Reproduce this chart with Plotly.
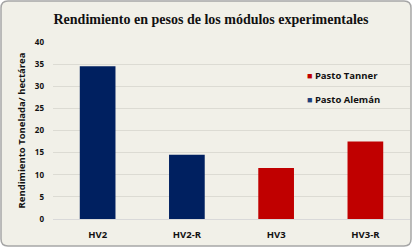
import plotly.graph_objects as go

categories = ["HV2", "HV2-R", "HV3", "HV3-R"]
aleman_x = ["HV2", "HV2-R"]
aleman_y = [34.5, 14.5]
tanner_x = ["HV3", "HV3-R"]
tanner_y = [11.5, 17.5]
y_ticks = [0, 5, 10, 15, 20, 25, 30, 35, 40]
series = [("Pasto Tanner", "#c00000"), ("Pasto Alemán", "#1f3f7a")]
bar_colors = ["#c00000", "#002060"]

W, H = 413, 248
ML, MR, MT, MB = 53, 3, 42, 29
PW, PH = W - ML - MR, H - MT - MB

def px(x):
    return (x - ML) / PW

def py(y):
    return (H - MB - y) / PH

fig = go.Figure()
fig.add_trace(go.Bar(x=tanner_x, y=tanner_y, name=series[0][0],
                     marker=dict(color=bar_colors[0], line=dict(width=0)),
                     width=0.4, showlegend=False))
fig.add_trace(go.Bar(x=aleman_x, y=aleman_y, name=series[1][0],
                     marker=dict(color=bar_colors[1], line=dict(width=0)),
                     width=0.4, showlegend=False))

# rounded border
x0, x1, y0, y1, r = 1, W - 2, 1, H - 2, 7
path = (f"M{px(x0+r)},{py(y0)} L{px(x1-r)},{py(y0)} Q{px(x1)},{py(y0)} {px(x1)},{py(y0+r)} "
        f"L{px(x1)},{py(y1-r)} Q{px(x1)},{py(y1)} {px(x1-r)},{py(y1)} "
        f"L{px(x0+r)},{py(y1)} Q{px(x0)},{py(y1)} {px(x0)},{py(y1-r)} "
        f"L{px(x0)},{py(y0+r)} Q{px(x0)},{py(y0)} {px(x0+r)},{py(y0)} Z")
fig.add_shape(type="path", path=path, xref="paper", yref="paper",
              fillcolor="#f1f0e8", line=dict(color="#a6a6a6", width=1.5), layer="below")

# legend (custom, small squares)
for i, (name, color) in enumerate(series):
    yy = 75.5 + i * 23.5
    fig.add_annotation(x=px(305), y=py(yy), xref="paper", yref="paper",
                       xanchor="left", yanchor="middle", showarrow=False,
                       text=f"<span style='color:{color};font-size:9px'>■</span> {name}",
                       font=dict(size=9.5, family="Open Sans", color="#111111", weight="bold"))

fig.update_layout(
    width=W, height=H,
    margin=dict(l=ML, r=MR, t=MT, b=MB),
    paper_bgcolor="white",
    plot_bgcolor="rgba(0,0,0,0)",
    barmode="overlay",
    title=dict(text="Rendimiento en pesos de los módulos experimentales",
               x=211 / W, xref="container", xanchor="center", y=1 - 19 / H, yanchor="middle",
               font=dict(family="Liberation Serif", size=14, color="#111111", weight="bold")),
    font=dict(family="Open Sans", color="#111111"),
    xaxis=dict(categoryorder="array", categoryarray=categories, showgrid=False,
               showline=True, linecolor="#d9d9d9", linewidth=1,
               tickfont=dict(size=9.5, family="Open Sans", weight="bold"), ticks="",
               ticklabelstandoff=7),
    yaxis=dict(range=[0, 40], tickvals=y_ticks, showgrid=True, gridcolor="#dcdbd3",
               gridwidth=1, zeroline=False, showline=False,
               tickfont=dict(size=8, family="Open Sans", weight="bold"), ticks="",
               ticklabelstandoff=8,
               title=dict(text="Rendimiento Tonelada/ hectárea",
                          font=dict(size=9.5, family="Open Sans", weight="bold"), standoff=7)),
    showlegend=False,
    bargap=0.6,
)

fig.write_html("out.html", config={"displayModeBar": False},
               post_script="document.body.style.margin='0';")
